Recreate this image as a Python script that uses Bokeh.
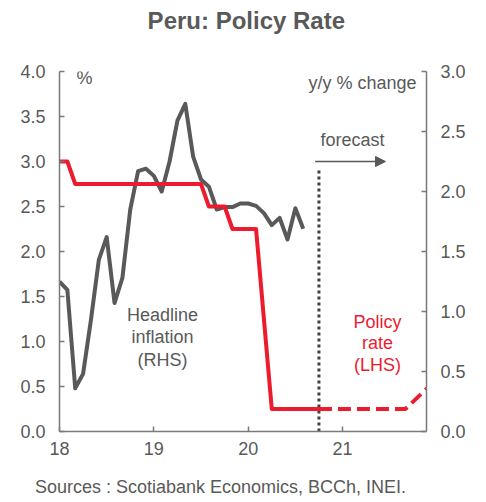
from bokeh.plotting import figure
from bokeh.models import (Range1d, LinearAxis, FixedTicker, PrintfTickFormatter,
                          Label, Arrow, NormalHead)
from bokeh.embed import file_html
from bokeh.resources import INLINE

# ---------------- data ----------------
start_year = 18  # Jan 2018
# Headline inflation, y/y % change (RHS), monthly Jan-2018 .. Aug-2020
inflation = [1.25, 1.18, 0.36, 0.48, 0.93, 1.43, 1.62, 1.07, 1.28, 1.85, 2.17, 2.19,
             2.13, 2.00, 2.25, 2.59, 2.73, 2.29, 2.10, 2.04, 1.85, 1.87, 1.87, 1.90,
             1.90, 1.88, 1.82, 1.72, 1.78, 1.60, 1.86, 1.69]
# Policy rate, % (LHS), monthly Jan-2018 .. Oct-2020
policy = [3.00, 3.00, 2.75, 2.75, 2.75, 2.75, 2.75, 2.75, 2.75, 2.75, 2.75, 2.75,
          2.75, 2.75, 2.75, 2.75, 2.75, 2.75, 2.75, 2.50, 2.50, 2.50, 2.25, 2.25,
          2.25, 2.25, 1.25, 0.25, 0.25, 0.25, 0.25, 0.25, 0.25, 0.25]
# Forecast policy rate: month index (0 = Jan-2018) and value
forecast_month = [33, 35, 38, 41, 44, 47]
forecast_rate = [0.25, 0.25, 0.25, 0.25, 0.25, 0.50]
x_ticks = [18, 19, 20, 21]
lhs_ticks = [0.0, 0.5, 1.0, 1.5, 2.0, 2.5, 3.0, 3.5, 4.0]
rhs_ticks = [0.0, 0.5, 1.0, 1.5, 2.0, 2.5, 3.0]

def mx(i):
    return start_year + i / 12.0

x_inf = [mx(i) for i in range(len(inflation))]
x_pol = [mx(i) for i in range(len(policy))]
x_fc = [mx(i) for i in forecast_month]

# ---------------- style ----------------
GREY = "#595959"
RED = "#EC1C2E"
AXIS = "#7a7a7a"
FONT = "Liberation Sans"
NBSP = "\u00a0"

X0, X1 = 18.0, 21.89
# frame in reference pixels (for placing annotation text)
FL, FR, FT, FB = 62, 429, 72, 432

def dx(px):
    return X0 + (px - FL) * (X1 - X0) / (FR - FL)

def dy(py):
    return (FB - py) * 4.0 / (FB - FT)

W, H = 470, 499
BL, BT = 59, 71
p = figure(width=W, height=H, output_backend="svg", toolbar_location=None,
           x_range=Range1d(X0, X1), y_range=Range1d(0, 4),
           min_border_left=BL, min_border_right=W - BL - (FR - FL),
           min_border_top=BT, min_border_bottom=H - BT - (FB - FT))
p.extra_y_ranges = {"rhs": Range1d(0, 3)}
p.grid.visible = False
p.outline_line_color = None
p.background_fill_color = "white"
p.border_fill_color = "white"

def style_axis(ax, standoff):
    ax.axis_line_color = AXIS
    ax.axis_line_width = 1.5
    ax.major_tick_line_color = AXIS
    ax.major_tick_line_width = 1.5
    ax.major_tick_in = 5
    ax.major_tick_out = 0
    ax.minor_tick_line_color = None
    ax.major_label_text_font = FONT
    ax.major_label_text_font_size = "18px"
    ax.major_label_text_color = GREY
    ax.major_label_standoff = standoff

def text_axis(ax, text, size, style, standoff):
    ax.ticker = FixedTicker(ticks=[])
    ax.axis_line_color = None
    ax.major_tick_line_color = None
    ax.minor_tick_line_color = None
    ax.major_tick_in = 0
    ax.major_tick_out = 0
    ax.minor_tick_in = 0
    ax.minor_tick_out = 0
    ax.major_label_text_font_size = "0px"
    ax.axis_label = text
    ax.axis_label_text_font = FONT
    ax.axis_label_text_font_size = size
    ax.axis_label_text_font_style = style
    ax.axis_label_text_color = GREY
    ax.axis_label_standoff = standoff

xa = p.xaxis[0]
xa.ticker = FixedTicker(ticks=x_ticks)
style_axis(xa, 10)

ya = p.yaxis[0]
ya.ticker = FixedTicker(ticks=lhs_ticks)
ya.formatter = PrintfTickFormatter(format="%.1f")
style_axis(ya, 14)

ra = LinearAxis(y_range_name="rhs")
ra.ticker = FixedTicker(ticks=rhs_ticks)
ra.formatter = PrintfTickFormatter(format="%.1f")
style_axis(ra, 14)
p.add_layout(ra, "right")

# title and sources as axis labels (outside the frame)
ta = LinearAxis()
text_axis(ta, NBSP + "Peru: Policy Rate", "24px", "bold", 38)
p.add_layout(ta, "above")

sa = LinearAxis()
text_axis(sa, "Sources : Scotiabank Economics, BCCh, INEI." + NBSP * 9,
          "18px", "normal", 19)
p.add_layout(sa, "below")

# forecast marker line
p.segment(x0=[x_fc[0]], y0=[0], x1=[x_fc[0]], y1=[2.9], line_color="#404040",
          line_width=3, line_dash="3 3")

# inflation (RHS)
p.line(x_inf, inflation, y_range_name="rhs", line_color=GREY, line_width=4,
       line_join="round")
# policy rate
p.line(x_pol, policy, line_color=RED, line_width=4, line_join="round")
p.line(x_fc, forecast_rate, line_color=RED, line_width=4, line_dash="13 6")

# forecast arrow
p.add_layout(Arrow(x_start=x_fc[0] - 0.04, y_start=3.0, x_end=dx(388), y_end=3.0,
                   line_color=GREY, line_width=1.5,
                   end=NormalHead(size=10, fill_color=GREY, line_color=GREY)))

def label(text, px, py, color=GREY, size="18px", align="center"):
    p.add_layout(Label(x=dx(px), y=dy(py), text=text, text_font=FONT,
                       text_font_size=size, text_color=color,
                       text_align=align, text_baseline="middle"))

label("%", 87, 78)
label("y/y % change", 419, 83, align="right")
label("forecast", 355, 140)
for t, yy in zip(["Headline", "inflation", "(RHS)"], [315, 337, 360]):
    label(t, 165, yy)
for t, yy in zip(["Policy", "rate", "(LHS)"], [322, 343, 365]):
    label(t, 380, yy, color=RED)

open("out.html", "w").write(file_html(p, INLINE))
